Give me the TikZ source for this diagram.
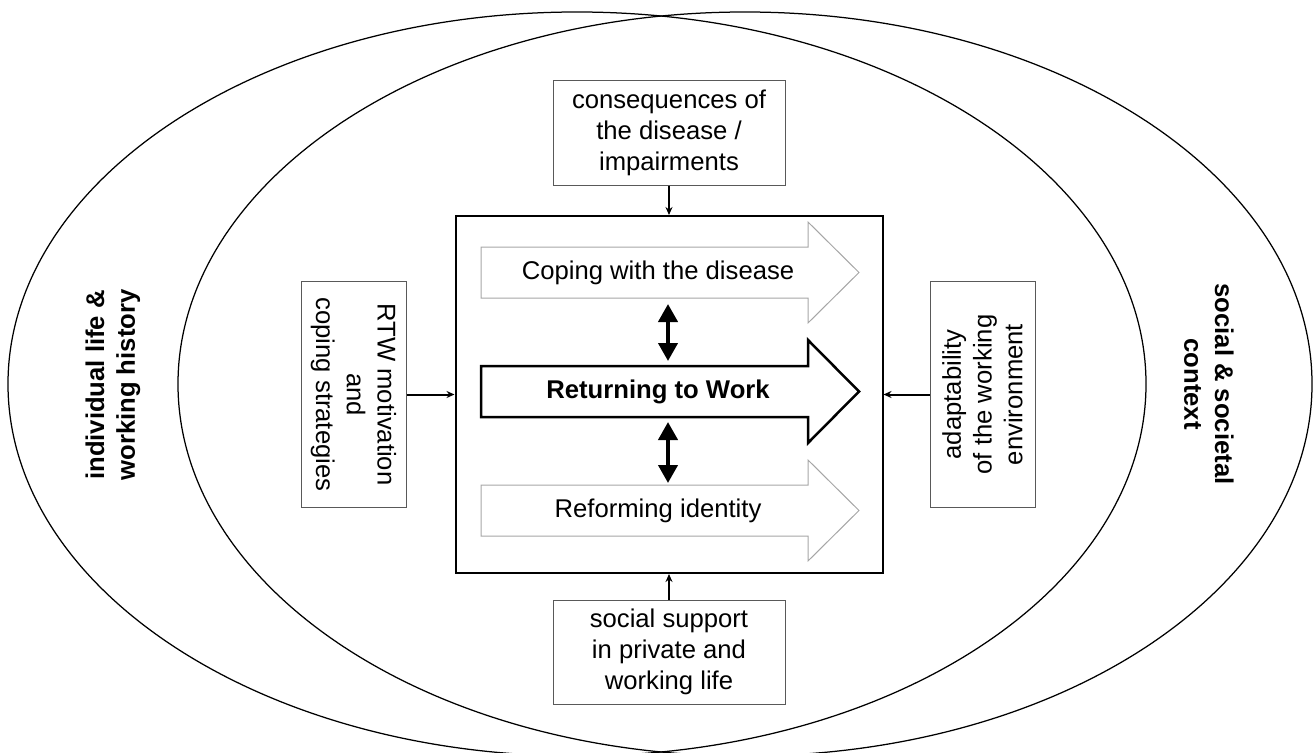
\documentclass[tikz,border=0pt]{standalone}
\usepackage{fontspec}
\setmainfont{Liberation Sans}
\usetikzlibrary{arrows.meta}

\tikzset{
  factor/.style={draw=black!65,line width=0.2mm,fill=white,align=center,inner sep=0pt},
  phase/.style={draw=black!35,line width=0.2mm,fill=white},
  mainphase/.style={draw=black,line width=0.5mm,fill=white},
  feed/.style={-{Stealth[length=1.6mm,width=1.4mm]},line width=0.4mm},
  link/.style={{Triangle[length=3.6mm,width=3.8mm]}-{Triangle[length=3.6mm,width=3.8mm]},line width=0.8mm},
  sphere/.style={line width=0.25mm},
  context/.style={font=\fontsize{14.6}{17.5}\selectfont\bfseries,align=center}
}

\begin{document}
\begin{tikzpicture}[x=0.2mm,y=-0.2mm,font=\fontsize{14.6}{17.5}\selectfont]
  \useasboundingbox (0,0) rectangle (1315,753);

  % the two overlapping spheres
  \draw[sphere] (577,384) ellipse [x radius=113.8mm,y radius=74.4mm];
  \draw[sphere] (745,384) ellipse [x radius=113.4mm,y radius=74.4mm];
  \node[context,rotate=90] (life) at (113,385) {individual life \&\\working history};
  \node[context,rotate=-90] (society) at (1209,384) {social \& societal\\context};

  % core process
  \node[draw,line width=0.4mm,minimum width=85.4mm,minimum height=71.4mm,inner sep=0pt] (core) at (669,394.5) {};
  \draw[phase] (481,247) -- (808,247) -- (808,222) -- (859,272.5) -- (808,323) -- (808,298) -- (481,298) -- cycle;
  \draw[mainphase] (481,366) -- (808,366) -- (808,340) -- (859,391.5) -- (808,443) -- (808,417) -- (481,417) -- cycle;
  \draw[phase] (481,485) -- (808,485) -- (808,460) -- (859,510.5) -- (808,561) -- (808,536) -- (481,536) -- cycle;
  \node (coping) at (658,272.5) {Coping with the disease};
  \node[font=\fontsize{14.6}{17.5}\selectfont\bfseries] (rtw) at (658,391.5) {Returning to Work};
  \node (reform) at (658,510.5) {Reforming identity};
  \coordinate (copeS) at (668,298);
  \coordinate (rtwN) at (668,366);
  \coordinate (rtwS) at (668,417);
  \coordinate (reformN) at (668,485);
  \draw[link,shorten <=1.2mm,shorten >=1mm] (copeS) -- (rtwN);
  \draw[link,shorten <=1mm,shorten >=0.4mm] (rtwS) -- (reformN);

  % influencing factors
  \node[factor,minimum width=46.4mm,minimum height=20.8mm] (impact) at (669,133) {consequences of\\the disease /\\impairments};
  \node[factor,minimum width=46.4mm,minimum height=20.8mm] (support) at (669,652) {social support\\in private and\\working life};
  \node[factor,rotate=-90,minimum width=45.2mm,minimum height=21mm] (motiv) at (353.5,394.5) {RTW motivation\\and\\coping strategies};
  \node[factor,rotate=90,minimum width=45.2mm,minimum height=21mm] (adapt) at (982.5,394.5) {adaptability\\of the working\\environment};
  \draw[feed] (impact) -- (core);
  \draw[feed] (support) -- (core);
  \draw[feed] (motiv) -- (core);
  \draw[feed] (adapt) -- (core);
\end{tikzpicture}
\end{document}
